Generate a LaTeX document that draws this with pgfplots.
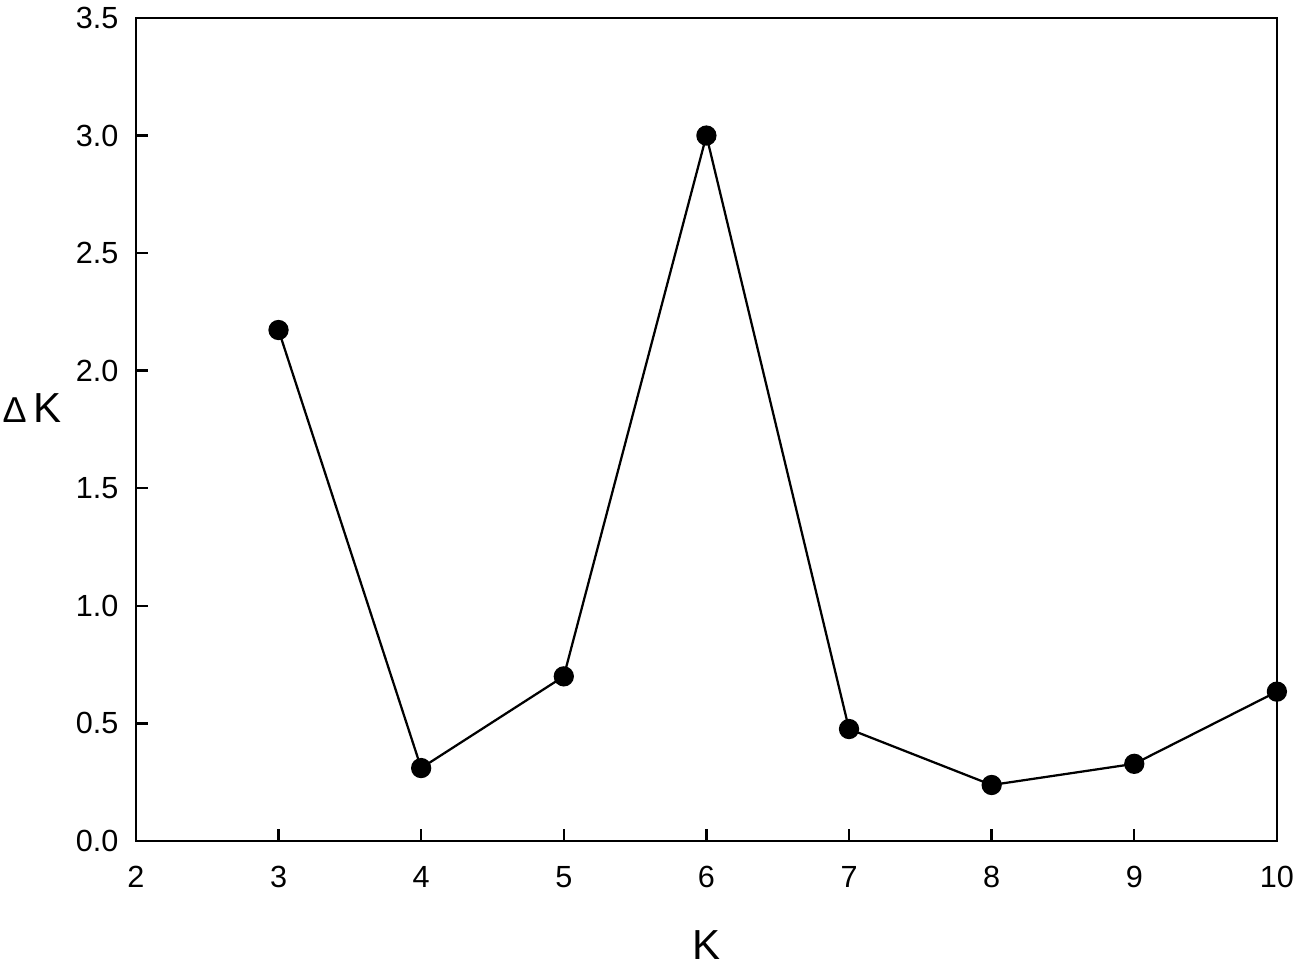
\documentclass[border=0pt]{standalone}
\usepackage{fontspec}
\setmainfont{Liberation Sans}
\usepackage{pgfplots}
\pgfplotsset{compat=1.18}

\begin{document}
\begin{tikzpicture}
\begin{axis}[
    scale only axis,
    width=380.3pt,
    height=274.3pt,
    xmin=2, xmax=10,
    ymin=0, ymax=3.5,
    xtick={2,3,...,10},
    ytick={0,0.5,...,3.5},
    yticklabel style={/pgf/number format/fixed, /pgf/number format/fixed zerofill, /pgf/number format/precision=1, xshift=-2.3pt},
    /pgf/number format/assume math mode=true,
    tick label style={font=\fontsize{10.2}{12}\selectfont},
    tick align=inside,
    xtick pos=bottom,
    ytick pos=left,
    major tick length=4pt,
    axis line style={line width=0.9pt},
    every tick/.style={line width=0.8pt, black},
    xlabel={K},
    ylabel={{\fontsize{12}{14}\selectfont Δ}\,K},
    label style={font=\fontsize{14}{16}\selectfont, inner sep=0pt},
    ylabel style={rotate=-90, at={(rel axis cs:0,0.526)}, anchor=east, xshift=-24.5pt},
    xlabel style={at={(rel axis cs:0.5,0)}, anchor=center, yshift=-34.7pt},
    xticklabel style={yshift=-5pt},
]
\addplot[black, line width=0.75pt, mark=*, mark size=3pt, mark options={solid, fill=black}]
coordinates {
    (3,2.173) (4,0.31) (5,0.70) (6,3.00) (7,0.476) (8,0.238) (9,0.328) (10,0.635)
};
\end{axis}
\pgfresetboundingbox
\path ([xshift=-45.3pt,yshift=-42.3pt]current axis.south west) rectangle ([xshift=7.7pt,yshift=6pt]current axis.north east);
\end{tikzpicture}
\end{document}
